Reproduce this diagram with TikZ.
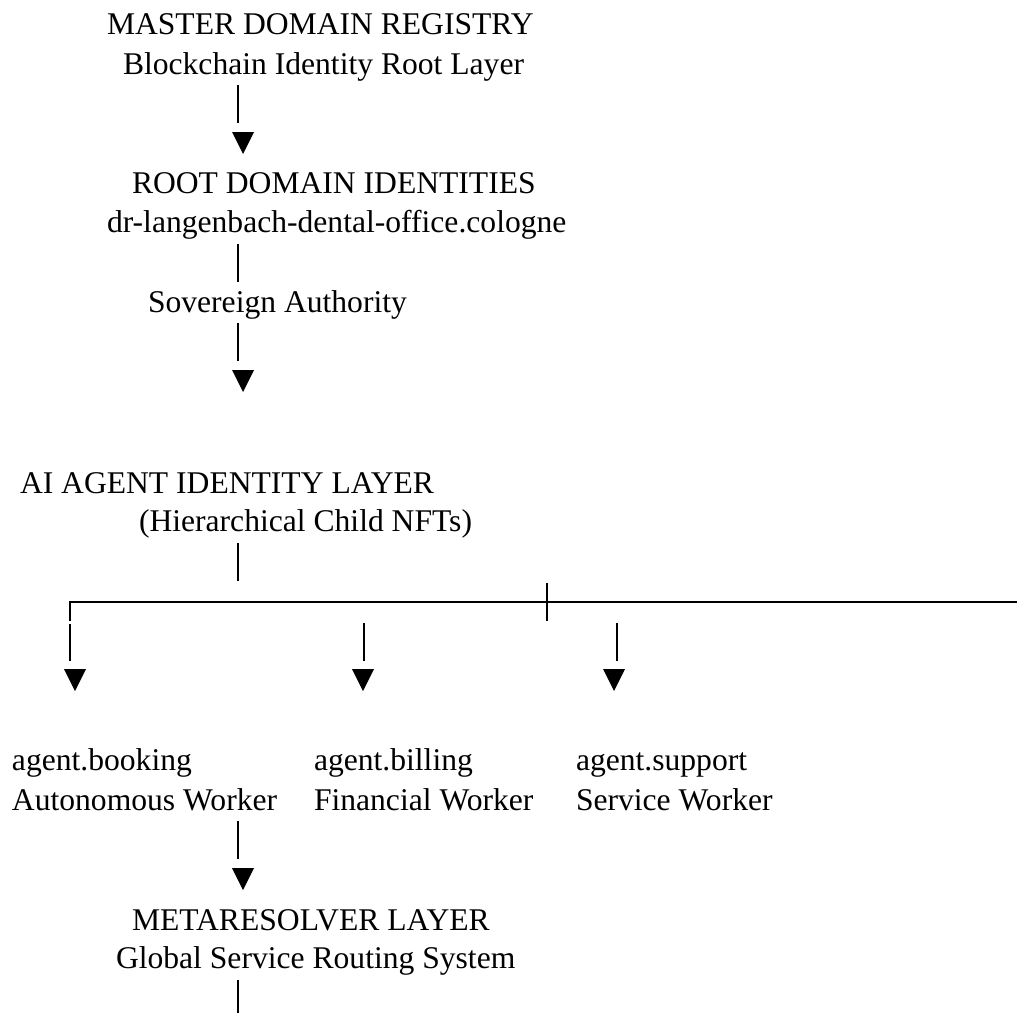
\documentclass[tikz,border=0pt]{standalone}
\usepackage{fontspec}
\setmainfont{Liberation Serif}
\begin{document}
\begin{tikzpicture}[x=1pt,y=-1pt,
  lbl/.style={anchor=base west,inner sep=0pt,outer sep=0pt,
              font=\fontsize{31.6}{39}\selectfont},
  bar/.style={line width=2.4pt,line cap=butt},
  rail/.style={line width=2.6pt,line cap=butt,line join=miter},
  tridown/.pic={\fill (-11,0) -- (11,0) -- (0,22) -- cycle;}]
\useasboundingbox (0,0) rectangle (1017,1012);

% ---- root registry ----
\node[lbl] (reg)   at (107,34)  {MASTER DOMAIN REGISTRY};
\node[lbl] (regb)  at (123,74)  {Blockchain Identity Root Layer};
\node[lbl] (root)  at (132,193) {ROOT DOMAIN IDENTITIES};
\node[lbl] (rootb) at (107,232) {dr-langenbach-dental-office.cologne};
\node[lbl] (sov)   at (148,312) {Sovereign Authority};

% ---- agent layer ----
\node[lbl] (ai)    at (20,493)  {AI AGENT IDENTITY LAYER};
\node[lbl] (aib)   at (139,531) {(Hierarchical Child NFTs)};

\node[lbl] (book)  at (12,770)  {agent.booking};
\node[lbl] (bookb) at (12,810)  {Autonomous Worker};
\node[lbl] (bill)  at (314,770) {agent.billing};
\node[lbl] (billb) at (314,810) {Financial Worker};
\node[lbl] (supp)  at (576,770) {agent.support};
\node[lbl] (suppb) at (576,810) {Service Worker};

% ---- resolver ----
\node[lbl] (meta)  at (132,930) {METARESOLVER LAYER};
\node[lbl] (metab) at (116,968) {Global Service Routing System};

% ---- connector end points ----
\coordinate (c1a) at (238,85);   \coordinate (c1b) at (238,123);
\coordinate (t1)  at (243,132);
\coordinate (c2a) at (238,244);  \coordinate (c2b) at (238,282);
\coordinate (c3a) at (238,323);  \coordinate (c3b) at (238,361);
\coordinate (t2)  at (243,370);
\coordinate (c4a) at (238,543);  \coordinate (c4b) at (238,581);
\coordinate (hl)  at (70,602);   \coordinate (hr)  at (1017,602);
\coordinate (hc)  at (70,621);
\coordinate (tka) at (547,583);  \coordinate (tkb) at (547,621);
\coordinate (d1a) at (70,624);   \coordinate (d1b) at (70,661);
\coordinate (t3)  at (75,669);
\coordinate (d2a) at (364,623);  \coordinate (d2b) at (364,661);
\coordinate (t4)  at (363,669);
\coordinate (d3a) at (617,623);  \coordinate (d3b) at (617,661);
\coordinate (t5)  at (614,669);
\coordinate (c5a) at (238,821);  \coordinate (c5b) at (238,859);
\coordinate (t6)  at (243,868);
\coordinate (c6a) at (238,980);  \coordinate (c6b) at (238,1014);

% registry -> root identities
\draw[bar] (c1a) -- (c1b);
\pic at (t1) {tridown};
% root identities -> sovereign authority -> agent layer
\draw[bar] (c2a) -- (c2b);
\draw[bar] (c3a) -- (c3b);
\pic at (t2) {tridown};
% agent layer -> branch rail
\draw[bar] (c4a) -- (c4b);
\draw[rail] (hc) -- (hl) -- (hr);
\draw[bar] (tka) -- (tkb);
% branches to the three agents
\draw[bar] (d1a) -- (d1b);
\pic at (t3) {tridown};
\draw[bar] (d2a) -- (d2b);
\pic at (t4) {tridown};
\draw[bar] (d3a) -- (d3b);
\pic at (t5) {tridown};
% booking agent -> metaresolver
\draw[bar] (c5a) -- (c5b);
\pic at (t6) {tridown};
\draw[bar] (c6a) -- (c6b);
\end{tikzpicture}
\end{document}
